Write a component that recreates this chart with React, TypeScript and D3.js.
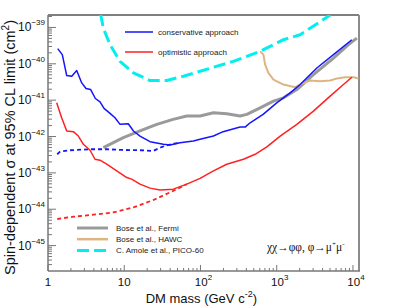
import React, { useEffect, useRef } from 'react';
import * as d3 from 'd3';

// conservative approach (blue)
const consMass = [1.34, 1.54, 1.76, 2.05, 2.38, 2.77, 3.15, 3.63, 4.18, 4.81, 5.43, 6.51, 7.57, 8.81, 11.3, 13.2, 16.1, 21.8, 32.6, 39.9, 54, 80.7, 98.8, 148, 198, 331, 385, 448, 663, 1000, 1500, 2030, 3360, 5550, 9680];
const consSigma = [2.61e-40, 1.79e-40, 4.75e-41, 4.55e-41, 6.52e-41, 2.98e-41, 2.09e-41, 1.96e-41, 1.11e-41, 8.98e-42, 5.93e-42, 4.32e-42, 3.27e-42, 2.16e-42, 2.24e-42, 1.42e-42, 1.03e-42, 7.21e-43, 6.11e-43, 5.85e-43, 6.76e-43, 7.53e-43, 8.38e-43, 1.03e-42, 1.36e-42, 1.82e-42, 1.82e-42, 2.39e-42, 4.06e-42, 8.43e-42, 1.58e-41, 2.69e-41, 7.67e-41, 1.79e-40, 4.6e-40];
const consLowMass = [1.32, 1.44, 1.94, 3.56, 5.89, 9.73, 16.1, 24.1, 29.5, 36.1, 43.7, 54];
const consLowSigma = [3.25e-43, 3.84e-43, 4.19e-43, 4.46e-43, 4.46e-43, 4.27e-43, 4.19e-43, 4.01e-43, 4.93e-43, 5.74e-43, 6.35e-43, 6.76e-43];

// optimistic approach (red)
const optMass = [1.3, 1.51, 1.76, 2.15, 2.5, 2.91, 3.56, 4.14, 4.81, 5.89, 7.97, 10.8, 12.5, 16.1, 21.8, 29.5, 44.1, 66.1, 98.8, 148, 221, 366, 521, 742, 1110, 1835, 3030, 5020, 7500, 9680];
const optSigma = [8.43e-42, 3.27e-42, 1.42e-42, 1.36e-42, 1.03e-42, 6.11e-43, 4.19e-43, 2.37e-43, 2.23e-43, 1.73e-43, 1.14e-43, 7.43e-44, 6.72e-44, 4.9e-44, 3.81e-44, 3.36e-44, 3.57e-44, 4.9e-44, 7.06e-44, 1.14e-43, 1.73e-43, 2.37e-43, 3.25e-43, 5.2e-43, 1.03e-42, 2.16e-42, 5e-42, 1.29e-41, 2.69e-41, 4.27e-41];
const optLowMass = [1.32, 2.15, 3.93, 7.19, 13.2, 24.1, 44.1, 66.1];
const optLowSigma = [5.39e-45, 6.23e-45, 7.06e-45, 8.16e-45, 1.12e-44, 1.79e-44, 3.21e-44, 4.9e-44];

// other limits
const fermiMass = [5.32, 9.73, 16.1, 26.7, 43.7, 66.1, 98.8, 148, 221, 331, 405, 606, 906, 1225, 1835, 3030, 5550, 8730, 11250];
const fermiSigma = [4.93e-43, 9.27e-43, 1.42e-42, 2.16e-42, 2.96e-42, 3.65e-42, 3.65e-42, 4.49e-42, 4.22e-42, 3.65e-42, 4.06e-42, 6.15e-42, 9.4e-42, 1.16e-41, 1.96e-41, 5.06e-41, 1.44e-40, 3.36e-40, 5.09e-40];
const hawcMass = [606, 669, 705, 778, 906, 1225, 1740, 2030, 2740, 3710, 5020, 6150, 7900, 10150, 11800];
const hawcSigma = [2.2e-40, 1.79e-40, 9.5e-41, 5.6e-41, 3.69e-41, 2.69e-41, 2.27e-41, 2.69e-41, 3.47e-41, 3.32e-41, 3.47e-41, 3.93e-41, 4.27e-41, 4.27e-41, 3.93e-41];
const picoMass = [4.9, 5.32, 6.51, 8.81, 13.2, 21.8, 36.1, 59.7, 98.8, 270, 606, 1225, 2030, 5020];
const picoSigma = [2.3e-39, 9.57e-40, 3.36e-40, 1.17e-40, 5.6e-41, 3.47e-41, 3.47e-41, 4.55e-41, 6.24e-41, 1.17e-40, 2.2e-40, 4.6e-40, 6.31e-40, 2.2e-39];

const xDecades = [0, 1, 2, 3, 4];
const yDecades = [-45, -44, -43, -42, -41, -40, -39];

const topLegend = [
    { label: 'conservative approach', color: '#1414ff' },
    { label: 'optimistic approach', color: '#ff2020' },
];
const bottomLegend = [
    { label: 'Bose et al., Fermi', color: '#9a9a9a', width: 3, dash: null },
    { label: 'Bose et al., HAWC', color: '#ddb582', width: 2.5, dash: null },
    { label: 'C. Amole et al., PICO-60', color: '#00f0f0', width: 3, dash: '12,5' },
];

export default function App() {
    const ref = useRef<SVGSVGElement>(null);

    useEffect(() => {
        const width = 399;
        const height = 308;
        const left = 48,
            right = 359,
            top = 15,
            bottom = 271;
        const font = '"Liberation Sans", Arial, sans-serif';

        const svg = d3.select(ref.current);
        svg.selectAll('*').remove();
        svg.attr('width', width).attr('height', height);
        svg.append('rect').attr('width', width).attr('height', height).attr('fill', '#fff');

        const x = d3.scaleLog().domain([1, 1.2e4]).range([left, right]);
        const y = d3.scaleLog().domain([2e-46, 2.2e-39]).range([bottom, top]);

        svg.append('clipPath')
            .attr('id', 'plotclip')
            .append('rect')
            .attr('x', left)
            .attr('y', top)
            .attr('width', right - left)
            .attr('height', bottom - top);

        // frame
        svg.append('line').attr('x1', left).attr('x2', right).attr('y1', top).attr('y2', top).attr('stroke', '#000').attr('stroke-width', 1);
        svg.append('line').attr('x1', right).attr('x2', right).attr('y1', top).attr('y2', bottom).attr('stroke', '#8c8c8c').attr('stroke-width', 2);

        // y axis, ticks inside
        const yMinor: number[] = [];
        for (let d = -46; d <= -39; d++) for (let k = 2; k <= 9; k++) yMinor.push(k * Math.pow(10, d));
        const yAxis = svg.append('g').attr('stroke', '#777');
        yAxis.append('line').attr('x1', left).attr('x2', left).attr('y1', top).attr('y2', bottom).attr('stroke-width', 1.5);
        yAxis.selectAll('.ymin')
            .data(yMinor.filter((v) => v > 2e-46 && v < 2.2e-39))
            .enter()
            .append('line')
            .attr('x1', left)
            .attr('x2', left + 4)
            .attr('y1', (d) => y(d))
            .attr('y2', (d) => y(d));
        yAxis.selectAll('.ymaj')
            .data(yDecades)
            .enter()
            .append('line')
            .attr('x1', left)
            .attr('x2', left + 8)
            .attr('y1', (d) => y(Math.pow(10, d)))
            .attr('y2', (d) => y(Math.pow(10, d)));

        const yLabels = svg.append('g').attr('font-family', font).attr('fill', '#111');
        yDecades.forEach((d) => {
            const t = yLabels.append('text').attr('x', 45).attr('y', y(Math.pow(10, d)) + 4).attr('text-anchor', 'end').attr('font-size', 12);
            t.append('tspan').text('10');
            t.append('tspan').attr('dy', -6).attr('font-size', 8).text('\u2212' + Math.abs(d));
        });

        // x axis, ticks inside
        const xMinor: number[] = [];
        for (let d = 0; d <= 4; d++) for (let k = 2; k <= 9; k++) xMinor.push(k * Math.pow(10, d));
        const xAxis = svg.append('g').attr('stroke', '#777');
        xAxis.append('line').attr('x1', left).attr('x2', right + 1).attr('y1', bottom).attr('y2', bottom).attr('stroke-width', 1.5);
        xAxis.selectAll('.xmin')
            .data(xMinor.filter((v) => v < 1.2e4))
            .enter()
            .append('line')
            .attr('x1', (d) => x(d))
            .attr('x2', (d) => x(d))
            .attr('y1', bottom)
            .attr('y2', bottom - 3);
        xAxis.selectAll('.xmaj')
            .data(xDecades)
            .enter()
            .append('line')
            .attr('x1', (d) => x(Math.pow(10, d)))
            .attr('x2', (d) => x(Math.pow(10, d)))
            .attr('y1', bottom)
            .attr('y2', bottom - 6);

        const xLabels = svg.append('g').attr('font-family', font).attr('fill', '#111');
        xDecades.forEach((d) => {
            const t = xLabels.append('text').attr('x', x(Math.pow(10, d))).attr('y', 286).attr('text-anchor', 'middle').attr('font-size', 11.5);
            if (d === 0) t.text('1');
            else if (d === 1) t.text('10');
            else {
                t.attr('dx', 3);
                t.append('tspan').text('10');
                t.append('tspan').attr('dy', -6).attr('font-size', 8).text(String(d));
            }
        });

        // axis titles
        const xt = svg.append('text').attr('x', 257).attr('y', 303).attr('text-anchor', 'end').attr('font-family', font).attr('font-size', 13).attr('fill', '#111');
        xt.append('tspan').text('DM mass (GeV c');
        xt.append('tspan').attr('dy', -6).attr('font-size', 9).text('-2');
        xt.append('tspan').attr('dy', 6).text(')');

        const yt = svg.append('text')
            .attr('transform', 'translate(15,20) rotate(-90)')
            .attr('text-anchor', 'end')
            .attr('font-family', font)
            .attr('font-size', 14.5)
            .attr('fill', '#111');
        yt.append('tspan').text('Spin-dependent \u03c3 at 95% CL limit (cm');
        yt.append('tspan').attr('dy', -6).attr('font-size', 10).text('2');
        yt.append('tspan').attr('dy', 6).text(')');

        // curves
        const line = d3
            .line<[number, number]>()
            .x((d) => x(d[0]))
            .y((d) => y(d[1]));
        const pairs = (m: number[], s: number[]) => m.map((v, i) => [v, s[i]] as [number, number]);
        const plot = svg.append('g').attr('clip-path', 'url(#plotclip)').attr('fill', 'none').attr('stroke-linejoin', 'round');

        plot.append('path').datum(pairs(picoMass, picoSigma)).attr('d', line).attr('stroke', '#00f0f0').attr('stroke-width', 3).attr('stroke-dasharray', '12,5');
        plot.append('path').datum(pairs(fermiMass, fermiSigma)).attr('d', line).attr('stroke', '#9a9a9a').attr('stroke-width', 3);
        plot.append('path').datum(pairs(hawcMass, hawcSigma)).attr('d', line).attr('stroke', '#ddb582').attr('stroke-width', 2);
        plot.append('path').datum(pairs(consLowMass, consLowSigma)).attr('d', line).attr('stroke', '#1414ff').attr('stroke-width', 1.8).attr('stroke-dasharray', '4,3');
        plot.append('path').datum(pairs(optLowMass, optLowSigma)).attr('d', line).attr('stroke', '#ff2020').attr('stroke-width', 1.8).attr('stroke-dasharray', '4,3');
        plot.append('path').datum(pairs(consMass, consSigma)).attr('d', line).attr('stroke', '#1414ff').attr('stroke-width', 1.5);
        plot.append('path').datum(pairs(optMass, optSigma)).attr('d', line).attr('stroke', '#ff2020').attr('stroke-width', 1.5);

        // legends
        const lg1 = svg.append('g').attr('font-family', font).attr('font-size', 8);
        topLegend.forEach((e, i) => {
            const yy = 32 + i * 20;
            lg1.append('line').attr('x1', 125).attr('x2', 153).attr('y1', yy).attr('y2', yy).attr('stroke', e.color).attr('stroke-width', 1.5);
            lg1.append('text').attr('x', 158).attr('y', yy + 3).attr('fill', '#222').text(e.label);
        });
        const lg2 = svg.append('g').attr('font-family', font).attr('font-size', 8);
        bottomLegend.forEach((e, i) => {
            const yy = 228 + i * 11.2;
            const l = lg2.append('line').attr('x1', 77).attr('x2', 108).attr('y1', yy).attr('y2', yy).attr('stroke', e.color).attr('stroke-width', e.width);
            if (e.dash) l.attr('stroke-dasharray', e.dash);
            lg2.append('text').attr('x', 116).attr('y', yy + 3).attr('fill', '#222').text(e.label);
        });

        // process annotation
        const ann = svg.append('text').attr('x', 267).attr('y', 251).attr('font-family', '"Liberation Serif", "DejaVu Serif", serif').attr('font-size', 11.5).attr('fill', '#111');
        ann.append('tspan').text('\u03c7\u03c7\u2192\u03c6\u03c6,  \u03c6\u2192\u03bc');
        ann.append('tspan').attr('dy', -5).attr('font-size', 7).text('+');
        ann.append('tspan').attr('dy', 5).text('\u03bc');
        ann.append('tspan').attr('dy', -5).attr('font-size', 7).text('-');
    }, []);

    return <svg ref={ref} style={{ position: 'absolute', left: 0, top: 0, display: 'block' }} />;
}
